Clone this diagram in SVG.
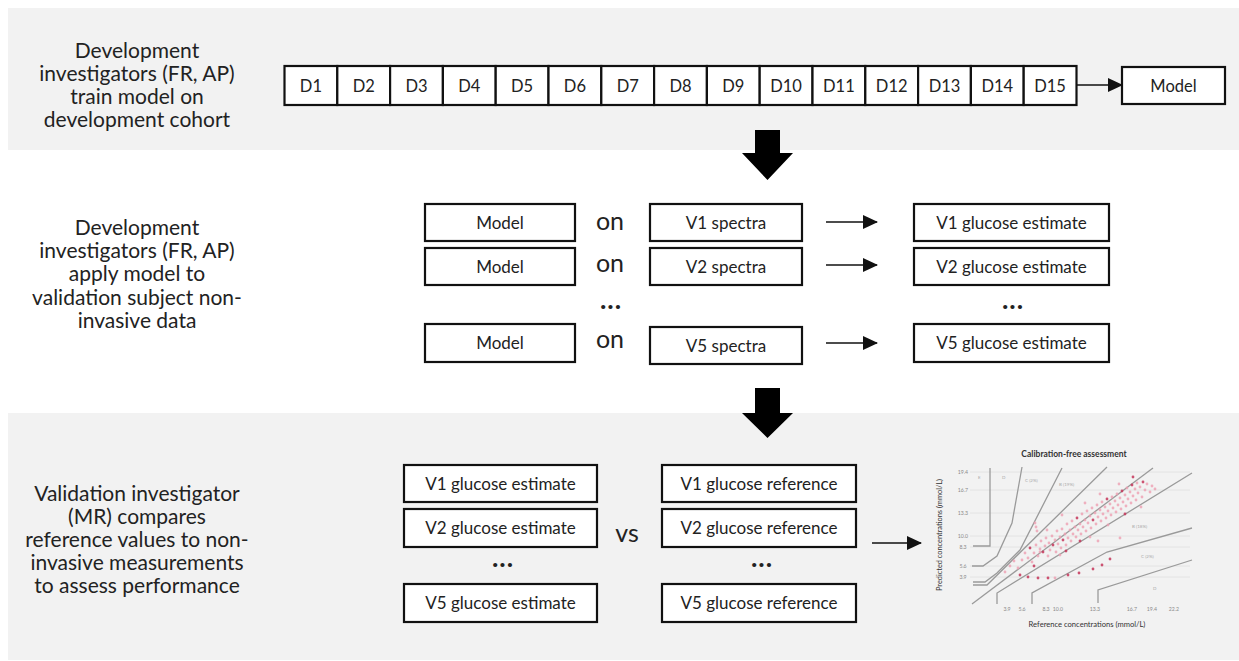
<svg xmlns="http://www.w3.org/2000/svg" width="1239" height="661" viewBox="0 0 1239 661">
<defs>
<style>
.band{fill:#f2f2f2}
.lbl{font-family:Lato,"Liberation Sans",sans-serif;font-size:21px;fill:#222;text-anchor:middle}
.box{fill:#fff;stroke:#111;stroke-width:2.2}
.bt{font-family:Lato,"Liberation Sans",sans-serif;font-size:17px;fill:#222;text-anchor:middle}
.dt{font-family:Lato,"Liberation Sans",sans-serif;font-size:16.5px;fill:#222;text-anchor:middle}
.big{font-family:Lato,"Liberation Sans",sans-serif;font-size:25px;fill:#222;text-anchor:middle}
.dots{font-family:Lato,"Liberation Sans",sans-serif;font-size:27px;font-weight:700;fill:#222;text-anchor:middle;letter-spacing:1px}
.conn{stroke:#111;stroke-width:1.6;fill:none}
.bigarrow{fill:#000}
.grid{stroke:#e0e0e0;stroke-width:0.8}
.zone{stroke:#9a9a9a;stroke-width:1.3;fill:none}
.tick{font-family:Lato,"Liberation Sans",sans-serif;font-size:5.2px;fill:#8a8a8a;text-anchor:middle}
.zl{font-family:Lato,"Liberation Sans",sans-serif;font-size:4.5px;fill:#aaa}
.ct{font-family:Lato,"Liberation Sans",sans-serif;fill:#333;text-anchor:middle}
.p{fill:#ee9fb2;opacity:0.8}
.q{fill:#c6365a;opacity:0.85}
</style>
<marker id="ah" markerUnits="userSpaceOnUse" markerWidth="15" markerHeight="14" viewBox="0 0 15 14" refX="14" refY="7" orient="auto">
<path d="M0,0 L15,7 L0,14 z" fill="#111"/>
</marker>
</defs>
<rect width="1239" height="661" fill="#fff"/>
<rect class="band" x="8" y="8" width="1231" height="142"/>
<rect class="band" x="8" y="413" width="1231" height="247"/>

<g id="label-train">
<text class="lbl" x="137" y="57.5">Development</text>
<text class="lbl" x="137" y="80.5">investigators (FR, AP)</text>
<text class="lbl" x="137" y="103.5">train model on</text>
<text class="lbl" x="137" y="126.5">development cohort</text>
</g>
<g id="label-apply">
<text class="lbl" x="137" y="234.5">Development</text>
<text class="lbl" x="137" y="258">investigators (FR, AP)</text>
<text class="lbl" x="137" y="281.3">apply model to</text>
<text class="lbl" x="137" y="304.6">validation subject non-</text>
<text class="lbl" x="137" y="328">invasive data</text>
</g>
<g id="label-validate">
<text class="lbl" x="137" y="501">Validation investigator</text>
<text class="lbl" x="137" y="524">(MR) compares</text>
<text class="lbl" x="137" y="547">reference values to non-</text>
<text class="lbl" x="137" y="570">invasive measurements</text>
<text class="lbl" x="137" y="593">to assess performance</text>
</g>

<g id="dev-cohort">
<rect class="box" x="284.5" y="66" width="52.8" height="39"/><text class="dt" x="310.9" y="91.5">D1</text>
<rect class="box" x="337.3" y="66" width="52.8" height="39"/><text class="dt" x="363.7" y="91.5">D2</text>
<rect class="box" x="390.1" y="66" width="52.8" height="39"/><text class="dt" x="416.5" y="91.5">D3</text>
<rect class="box" x="442.9" y="66" width="52.8" height="39"/><text class="dt" x="469.3" y="91.5">D4</text>
<rect class="box" x="495.7" y="66" width="52.8" height="39"/><text class="dt" x="522.1" y="91.5">D5</text>
<rect class="box" x="548.5" y="66" width="52.8" height="39"/><text class="dt" x="574.9" y="91.5">D6</text>
<rect class="box" x="601.3" y="66" width="52.8" height="39"/><text class="dt" x="627.7" y="91.5">D7</text>
<rect class="box" x="654.1" y="66" width="52.8" height="39"/><text class="dt" x="680.5" y="91.5">D8</text>
<rect class="box" x="706.9" y="66" width="52.8" height="39"/><text class="dt" x="733.3" y="91.5">D9</text>
<rect class="box" x="759.7" y="66" width="52.8" height="39"/><text class="dt" x="786.1" y="91.5">D10</text>
<rect class="box" x="812.5" y="66" width="52.8" height="39"/><text class="dt" x="838.9" y="91.5">D11</text>
<rect class="box" x="865.3" y="66" width="52.8" height="39"/><text class="dt" x="891.7" y="91.5">D12</text>
<rect class="box" x="918.1" y="66" width="52.8" height="39"/><text class="dt" x="944.5" y="91.5">D13</text>
<rect class="box" x="970.9" y="66" width="52.8" height="39"/><text class="dt" x="997.3" y="91.5">D14</text>
<rect class="box" x="1023.7" y="66" width="52.8" height="39"/><text class="dt" x="1050.1" y="91.5">D15</text>
</g>
<g id="model-top"><rect class="box" x="1122" y="67" width="103" height="37"/><text class="dt" x="1173.5" y="91.5">Model</text></g>

<g id="model-1"><rect class="box" x="425" y="204" width="150" height="37"/><text class="bt" x="500" y="228.5">Model</text></g>
<g id="model-2"><rect class="box" x="425" y="248" width="150" height="37"/><text class="bt" x="500" y="272.5">Model</text></g>
<g id="model-5"><rect class="box" x="425" y="324" width="150" height="38"/><text class="bt" x="500" y="349">Model</text></g>
<g id="on-words">
<text class="big" x="610" y="230">on</text>
<text class="big" x="610" y="272">on</text>
<text class="dots" x="611" y="309">...</text>
<text class="big" x="610" y="348">on</text>
</g>
<g id="spectra-1"><rect class="box" x="650" y="204" width="152" height="37"/><text class="bt" x="726" y="228.5">V1 spectra</text></g>
<g id="spectra-2"><rect class="box" x="650" y="248" width="152" height="37"/><text class="bt" x="726" y="272.5">V2 spectra</text></g>
<g id="spectra-5"><rect class="box" x="650" y="327" width="152" height="37"/><text class="bt" x="726" y="351.5">V5 spectra</text></g>
<g id="estimate-1"><rect class="box" x="914" y="204" width="195" height="37"/><text class="bt" x="1011.5" y="228.5">V1 glucose estimate</text></g>
<g id="estimate-2"><rect class="box" x="914" y="248" width="195" height="37"/><text class="bt" x="1011.5" y="272.5">V2 glucose estimate</text></g>
<text class="dots" x="1013" y="309">...</text>
<g id="estimate-5"><rect class="box" x="914" y="324" width="195" height="38"/><text class="bt" x="1011.5" y="349">V5 glucose estimate</text></g>

<g id="cmp-estimate-1"><rect class="box" x="404" y="465" width="193" height="37"/><text class="bt" x="500.5" y="489.5">V1 glucose estimate</text></g>
<g id="cmp-estimate-2"><rect class="box" x="404" y="509" width="193" height="38"/><text class="bt" x="500.5" y="534">V2 glucose estimate</text></g>
<text class="dots" x="503" y="567">...</text>
<g id="cmp-estimate-5"><rect class="box" x="404" y="584" width="193" height="38"/><text class="bt" x="500.5" y="609">V5 glucose estimate</text></g>
<text class="big" x="627" y="542">vs</text>
<g id="cmp-reference-1"><rect class="box" x="662" y="465" width="194" height="37"/><text class="bt" x="759" y="489.5">V1 glucose reference</text></g>
<g id="cmp-reference-2"><rect class="box" x="662" y="509" width="194" height="38"/><text class="bt" x="759" y="534">V2 glucose reference</text></g>
<text class="dots" x="762" y="567">...</text>
<g id="cmp-reference-5"><rect class="box" x="662" y="584" width="194" height="38"/><text class="bt" x="759" y="609">V5 glucose reference</text></g>

<g id="connectors">
<line class="conn" x1="1077" y1="85" x2="1122" y2="85" marker-end="url(#ah)"/>
<line class="conn" x1="826" y1="222" x2="877" y2="222" marker-end="url(#ah)"/>
<line class="conn" x1="826" y1="265" x2="877" y2="265" marker-end="url(#ah)"/>
<line class="conn" x1="826" y1="343" x2="877" y2="343" marker-end="url(#ah)"/>
<line class="conn" x1="872" y1="543" x2="921" y2="543" marker-end="url(#ah)"/>
<path class="bigarrow" d="M755,130 H780 V153 H793 L767.5,180 L742,153 H755 Z"/>
<path class="bigarrow" d="M755,388 H780 V413 H793 L767.5,438 L742,413 H755 Z"/>
</g>

<g id="chart">
<g id="grid">
<line class="grid" x1="970" y1="472" x2="1190" y2="472"/>
<line class="grid" x1="970" y1="490" x2="1190" y2="490"/>
<line class="grid" x1="970" y1="513" x2="1190" y2="513"/>
<line class="grid" x1="970" y1="536" x2="1190" y2="536"/>
<line class="grid" x1="970" y1="547" x2="1190" y2="547"/>
<line class="grid" x1="970" y1="566" x2="1190" y2="566"/>
<line class="grid" x1="970" y1="577" x2="1190" y2="577"/>
</g>
<text class="ct" x="1074" y="457" font-size="8.5" font-weight="700" fill="#222">Calibration-free assessment</text>
<text class="ct" transform="translate(942,535) rotate(-90)" font-size="7.4">Predicted concentrations (mmol/L)</text>
<text class="ct" x="1087" y="627" font-size="7.6">Reference concentrations (mmol/L)</text>
<g id="yticks">
<text class="tick" x="963" y="474">19.4</text>
<text class="tick" x="963" y="492">16.7</text>
<text class="tick" x="963" y="515">13.3</text>
<text class="tick" x="963" y="538">10.0</text>
<text class="tick" x="963" y="549">8.3</text>
<text class="tick" x="963" y="568">5.6</text>
<text class="tick" x="963" y="579">3.9</text>
</g>
<g id="xticks">
<text class="tick" x="1007" y="611">3.9</text>
<text class="tick" x="1022" y="611">5.6</text>
<text class="tick" x="1046" y="611">8.3</text>
<text class="tick" x="1058" y="611">10.0</text>
<text class="tick" x="1095" y="611">13.3</text>
<text class="tick" x="1132" y="611">16.7</text>
<text class="tick" x="1152" y="611">19.4</text>
<text class="tick" x="1174" y="611">22.2</text>
</g>
<g id="zones">
<path class="zone" d="M973,546 H990 V468"/>
<path class="zone" d="M972,566 L983,566 L997,556 L1012,523 L1022,467"/>
<path class="zone" d="M973,582 L985,582 L997,573 L1020,550 L1062,468"/>
<path class="zone" d="M973,585 L987,585 L1107,467"/>
<path class="zone" d="M972,604 L1153,468"/>
<path class="zone" d="M997,604 V593 L1192,473"/>
<path class="zone" d="M1032,604 V593 L1107,552 L1192,528"/>
<path class="zone" d="M1098,603 V590 L1192,560"/>
</g>
<g id="zone-labels">
<text class="zl" x="978" y="479">E</text>
<text class="zl" x="1002" y="479">D</text>
<text class="zl" x="1025" y="482">C (2%)</text>
<text class="zl" x="1059" y="486">B (19%)</text>
<text class="zl" x="1132" y="528">B (18%)</text>
<text class="zl" x="1141" y="558">C (2%)</text>
<text class="zl" x="1153" y="590">D</text>
</g>
<g id="scatter">
<circle class="p" cx="1005" cy="572" r="1.4"/><circle class="p" cx="1010" cy="566" r="1.4"/><circle class="p" cx="1014" cy="561" r="1.4"/><circle class="p" cx="1018" cy="568" r="1.4"/>
<circle class="p" cx="1022" cy="560" r="1.4"/><circle class="p" cx="1025" cy="553" r="1.4"/><circle class="p" cx="1028" cy="558" r="1.4"/><circle class="q" cx="1030" cy="548" r="1.4"/>
<circle class="p" cx="1032" cy="562" r="1.4"/><circle class="p" cx="1034" cy="553" r="1.4"/><circle class="p" cx="1036" cy="545" r="1.4"/><circle class="p" cx="1038" cy="556" r="1.4"/>
<circle class="p" cx="1040" cy="549" r="1.4"/><circle class="p" cx="1041" cy="541" r="1.4"/><circle class="q" cx="1043" cy="552" r="1.4"/><circle class="p" cx="1045" cy="546" r="1.4"/>
<circle class="p" cx="1046" cy="538" r="1.4"/><circle class="p" cx="1048" cy="556" r="1.4"/><circle class="p" cx="1049" cy="543" r="1.4"/><circle class="p" cx="1050" cy="550" r="1.4"/>
<circle class="p" cx="1052" cy="536" r="1.4"/><circle class="q" cx="1053" cy="545" r="1.4"/><circle class="p" cx="1055" cy="540" r="1.4"/><circle class="p" cx="1056" cy="552" r="1.4"/>
<circle class="p" cx="1057" cy="531" r="1.4"/><circle class="p" cx="1058" cy="544" r="1.4"/><circle class="p" cx="1060" cy="537" r="1.4"/><circle class="p" cx="1061" cy="548" r="1.4"/>
<circle class="p" cx="1062" cy="529" r="1.4"/><circle class="q" cx="1063" cy="540" r="1.4"/><circle class="p" cx="1065" cy="534" r="1.4"/><circle class="p" cx="1066" cy="545" r="1.4"/>
<circle class="p" cx="1067" cy="524" r="1.4"/><circle class="p" cx="1068" cy="538" r="1.4"/><circle class="p" cx="1070" cy="530" r="1.4"/><circle class="p" cx="1071" cy="541" r="1.4"/>
<circle class="p" cx="1072" cy="521" r="1.4"/><circle class="p" cx="1073" cy="534" r="1.4"/><circle class="p" cx="1075" cy="527" r="1.4"/><circle class="p" cx="1076" cy="537" r="1.4"/>
<circle class="q" cx="1077" cy="518" r="1.4"/><circle class="p" cx="1078" cy="530" r="1.4"/><circle class="p" cx="1080" cy="524" r="1.4"/><circle class="p" cx="1081" cy="534" r="1.4"/>
<circle class="p" cx="1082" cy="514" r="1.4"/><circle class="p" cx="1083" cy="527" r="1.4"/><circle class="p" cx="1085" cy="520" r="1.4"/><circle class="p" cx="1086" cy="531" r="1.4"/>
<circle class="p" cx="1087" cy="511" r="1.4"/><circle class="p" cx="1088" cy="523" r="1.4"/><circle class="p" cx="1090" cy="516" r="1.4"/><circle class="p" cx="1091" cy="528" r="1.4"/>
<circle class="p" cx="1092" cy="508" r="1.4"/><circle class="q" cx="1093" cy="520" r="1.4"/><circle class="p" cx="1095" cy="513" r="1.4"/><circle class="p" cx="1096" cy="524" r="1.4"/>
<circle class="p" cx="1097" cy="505" r="1.4"/><circle class="p" cx="1098" cy="517" r="1.4"/><circle class="p" cx="1100" cy="510" r="1.4"/><circle class="p" cx="1101" cy="521" r="1.4"/>
<circle class="p" cx="1102" cy="502" r="1.4"/><circle class="p" cx="1103" cy="514" r="1.4"/><circle class="p" cx="1105" cy="507" r="1.4"/><circle class="p" cx="1106" cy="518" r="1.4"/>
<circle class="q" cx="1107" cy="499" r="1.4"/><circle class="p" cx="1108" cy="511" r="1.4"/><circle class="p" cx="1110" cy="504" r="1.4"/><circle class="p" cx="1111" cy="515" r="1.4"/>
<circle class="p" cx="1112" cy="497" r="1.4"/><circle class="p" cx="1113" cy="508" r="1.4"/><circle class="p" cx="1115" cy="501" r="1.4"/><circle class="p" cx="1116" cy="512" r="1.4"/>
<circle class="p" cx="1117" cy="494" r="1.4"/><circle class="p" cx="1118" cy="505" r="1.4"/><circle class="p" cx="1120" cy="498" r="1.4"/><circle class="p" cx="1121" cy="509" r="1.4"/>
<circle class="q" cx="1122" cy="491" r="1.4"/><circle class="p" cx="1123" cy="502" r="1.4"/><circle class="p" cx="1125" cy="495" r="1.4"/><circle class="p" cx="1126" cy="506" r="1.4"/>
<circle class="p" cx="1127" cy="488" r="1.4"/><circle class="p" cx="1128" cy="499" r="1.4"/><circle class="p" cx="1130" cy="492" r="1.4"/><circle class="p" cx="1131" cy="503" r="1.4"/>
<circle class="q" cx="1132" cy="485" r="1.4"/><circle class="p" cx="1133" cy="496" r="1.4"/><circle class="p" cx="1135" cy="489" r="1.4"/><circle class="p" cx="1136" cy="500" r="1.4"/>
<circle class="p" cx="1137" cy="483" r="1.4"/><circle class="p" cx="1138" cy="493" r="1.4"/><circle class="p" cx="1140" cy="487" r="1.4"/><circle class="p" cx="1142" cy="497" r="1.4"/>
<circle class="q" cx="1143" cy="482" r="1.4"/><circle class="p" cx="1145" cy="490" r="1.4"/><circle class="p" cx="1147" cy="484" r="1.4"/><circle class="p" cx="1150" cy="492" r="1.4"/>
<circle class="p" cx="1152" cy="486" r="1.4"/><circle class="p" cx="1155" cy="489" r="1.4"/><circle class="p" cx="1141" cy="507" r="1.4"/><circle class="q" cx="1125" cy="514" r="1.4"/>
<circle class="p" cx="1108" cy="525" r="1.4"/><circle class="p" cx="1090" cy="537" r="1.4"/><circle class="p" cx="1060" cy="555" r="1.4"/><circle class="p" cx="1047" cy="530" r="1.4"/>
<circle class="p" cx="1036" cy="527" r="1.4"/><circle class="p" cx="1062" cy="515" r="1.4"/><circle class="p" cx="1085" cy="503" r="1.4"/><circle class="p" cx="1100" cy="494" r="1.4"/>
<circle class="p" cx="1119" cy="484" r="1.4"/><circle class="q" cx="1133" cy="477" r="1.4"/><circle class="p" cx="1035" cy="523" r="1.4"/><circle class="p" cx="1037" cy="531" r="1.4"/>
<circle class="q" cx="1020" cy="575" r="1.4"/><circle class="q" cx="1028" cy="577" r="1.4"/><circle class="q" cx="1038" cy="578" r="1.4"/><circle class="q" cx="1048" cy="578" r="1.4"/>
<circle class="p" cx="1055" cy="578" r="1.4"/><circle class="q" cx="1068" cy="575" r="1.4"/><circle class="q" cx="1079" cy="573" r="1.4"/><circle class="q" cx="1093" cy="569" r="1.4"/>
<circle class="q" cx="1102" cy="565" r="1.4"/><circle class="q" cx="1110" cy="559" r="1.4"/><circle class="q" cx="1034" cy="566" r="1.4"/><circle class="p" cx="1040" cy="552" r="1.4"/>
<circle class="q" cx="1080" cy="541" r="1.4"/><circle class="p" cx="1098" cy="541" r="1.4"/><circle class="p" cx="1120" cy="538" r="1.4"/><circle class="q" cx="1066" cy="551" r="1.4"/>
</g>
</g>
</svg>
